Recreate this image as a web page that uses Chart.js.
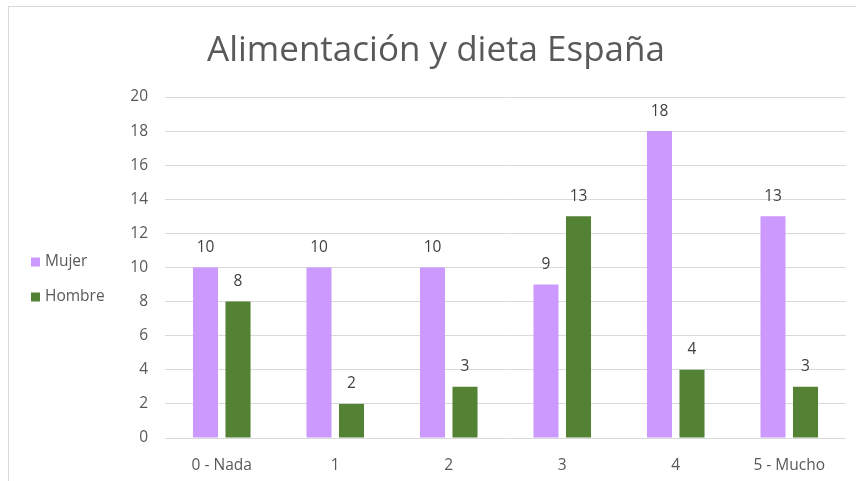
<!DOCTYPE html>
<html>
<head>
<meta charset="utf-8">
<script src="https://cdn.jsdelivr.net/npm/chart.js@4.4.1/dist/chart.umd.min.js"></script>
<style>
  html, body { margin: 0; padding: 0; background: #fff; overflow: hidden; width: 856px; height: 481px; }
  #frame { position: absolute; left: 8px; top: 6px; width: 900px; height: 500px; border-left: 1px solid #d9d9d9; border-top: 1px solid #d9d9d9; }
  #wrap { position: absolute; left: 0; top: 0; width: 856px; height: 481px; }
</style>
</head>
<body>
<div id="frame"></div>
<div id="wrap"><canvas id="c" width="856" height="481"></canvas></div>
<script>
const titleText = "Alimentación y dieta España";
const categories = ["0 - Nada", "1", "2", "3", "4", "5 - Mucho"];
const seriesNames = ["Mujer", "Hombre"];
const mujerValues = [10, 10, 10, 9, 18, 13];
const hombreValues = [8, 2, 3, 13, 4, 3];
const seriesColors = ["#cc99ff", "#548235"];

const FONT = "'Open Sans', 'Noto Sans', sans-serif";

const valueLabels = {
  id: 'valueLabels',
  afterDatasetsDraw(chart) {
    const ctx = chart.ctx;
    ctx.save();
    ctx.font = "15.5px " + FONT;
    ctx.fillStyle = "#404040";
    ctx.textAlign = "center";
    ctx.textBaseline = "middle";
    chart.data.datasets.forEach((ds, i) => {
      const meta = chart.getDatasetMeta(i);
      meta.data.forEach((el, j) => {
        ctx.fillText(String(ds.data[j]), el.x, el.y - 20);
      });
    });
    ctx.restore();
  }
};

const sideLegend = {
  id: 'sideLegend',
  afterDraw(chart) {
    const ctx = chart.ctx;
    ctx.save();
    ctx.font = "15.5px " + FONT;
    ctx.textAlign = "left";
    ctx.textBaseline = "middle";
    const x0 = 31, yStart = 262, step = 35;
    chart.data.datasets.forEach((ds, i) => {
      const yc = yStart + i * step;
      ctx.fillStyle = ds.backgroundColor;
      ctx.fillRect(x0, yc - 4.5, 9, 9);
      ctx.fillStyle = "#595959";
      ctx.fillText(ds.label, x0 + 14, yc);
    });
    ctx.restore();
  }
};

new Chart(document.getElementById('c'), {
  type: 'bar',
  data: {
    labels: categories,
    datasets: [
      { label: seriesNames[0], data: mujerValues, backgroundColor: seriesColors[0] },
      { label: seriesNames[1], data: hombreValues, backgroundColor: seriesColors[1] }
    ]
  },
  options: {
    responsive: false,
    animation: false,
    layout: { padding: { left: 26, right: 10, top: 0, bottom: 0 } },
    categoryPercentage: 0.573,
    barPercentage: 0.77,
    plugins: {
      legend: { display: false },
      tooltip: { enabled: false },
      title: {
        display: true,
        text: titleText,
        color: "#595959",
        font: { family: FONT, size: 35, weight: 'normal' },
        padding: { top: 30, bottom: 25 }
      }
    },
    scales: {
      x: {
        grid: { display: false, drawTicks: false },
        border: { display: false },
        ticks: { color: "#595959", font: { family: FONT, size: 15.5 }, padding: 18 },
        afterFit(scale) { scale.height = 43; }
      },
      y: {
        min: 0, max: 20,
        grid: { color: "#d9d9d9", drawTicks: false },
        border: { display: false },
        ticks: { stepSize: 2, color: "#595959", font: { family: FONT, size: 15.5 }, padding: 17 },
        afterFit(scale) { scale.width = 139; }
      }
    }
  },
  plugins: [valueLabels, sideLegend]
});
</script>
</body>
</html>
